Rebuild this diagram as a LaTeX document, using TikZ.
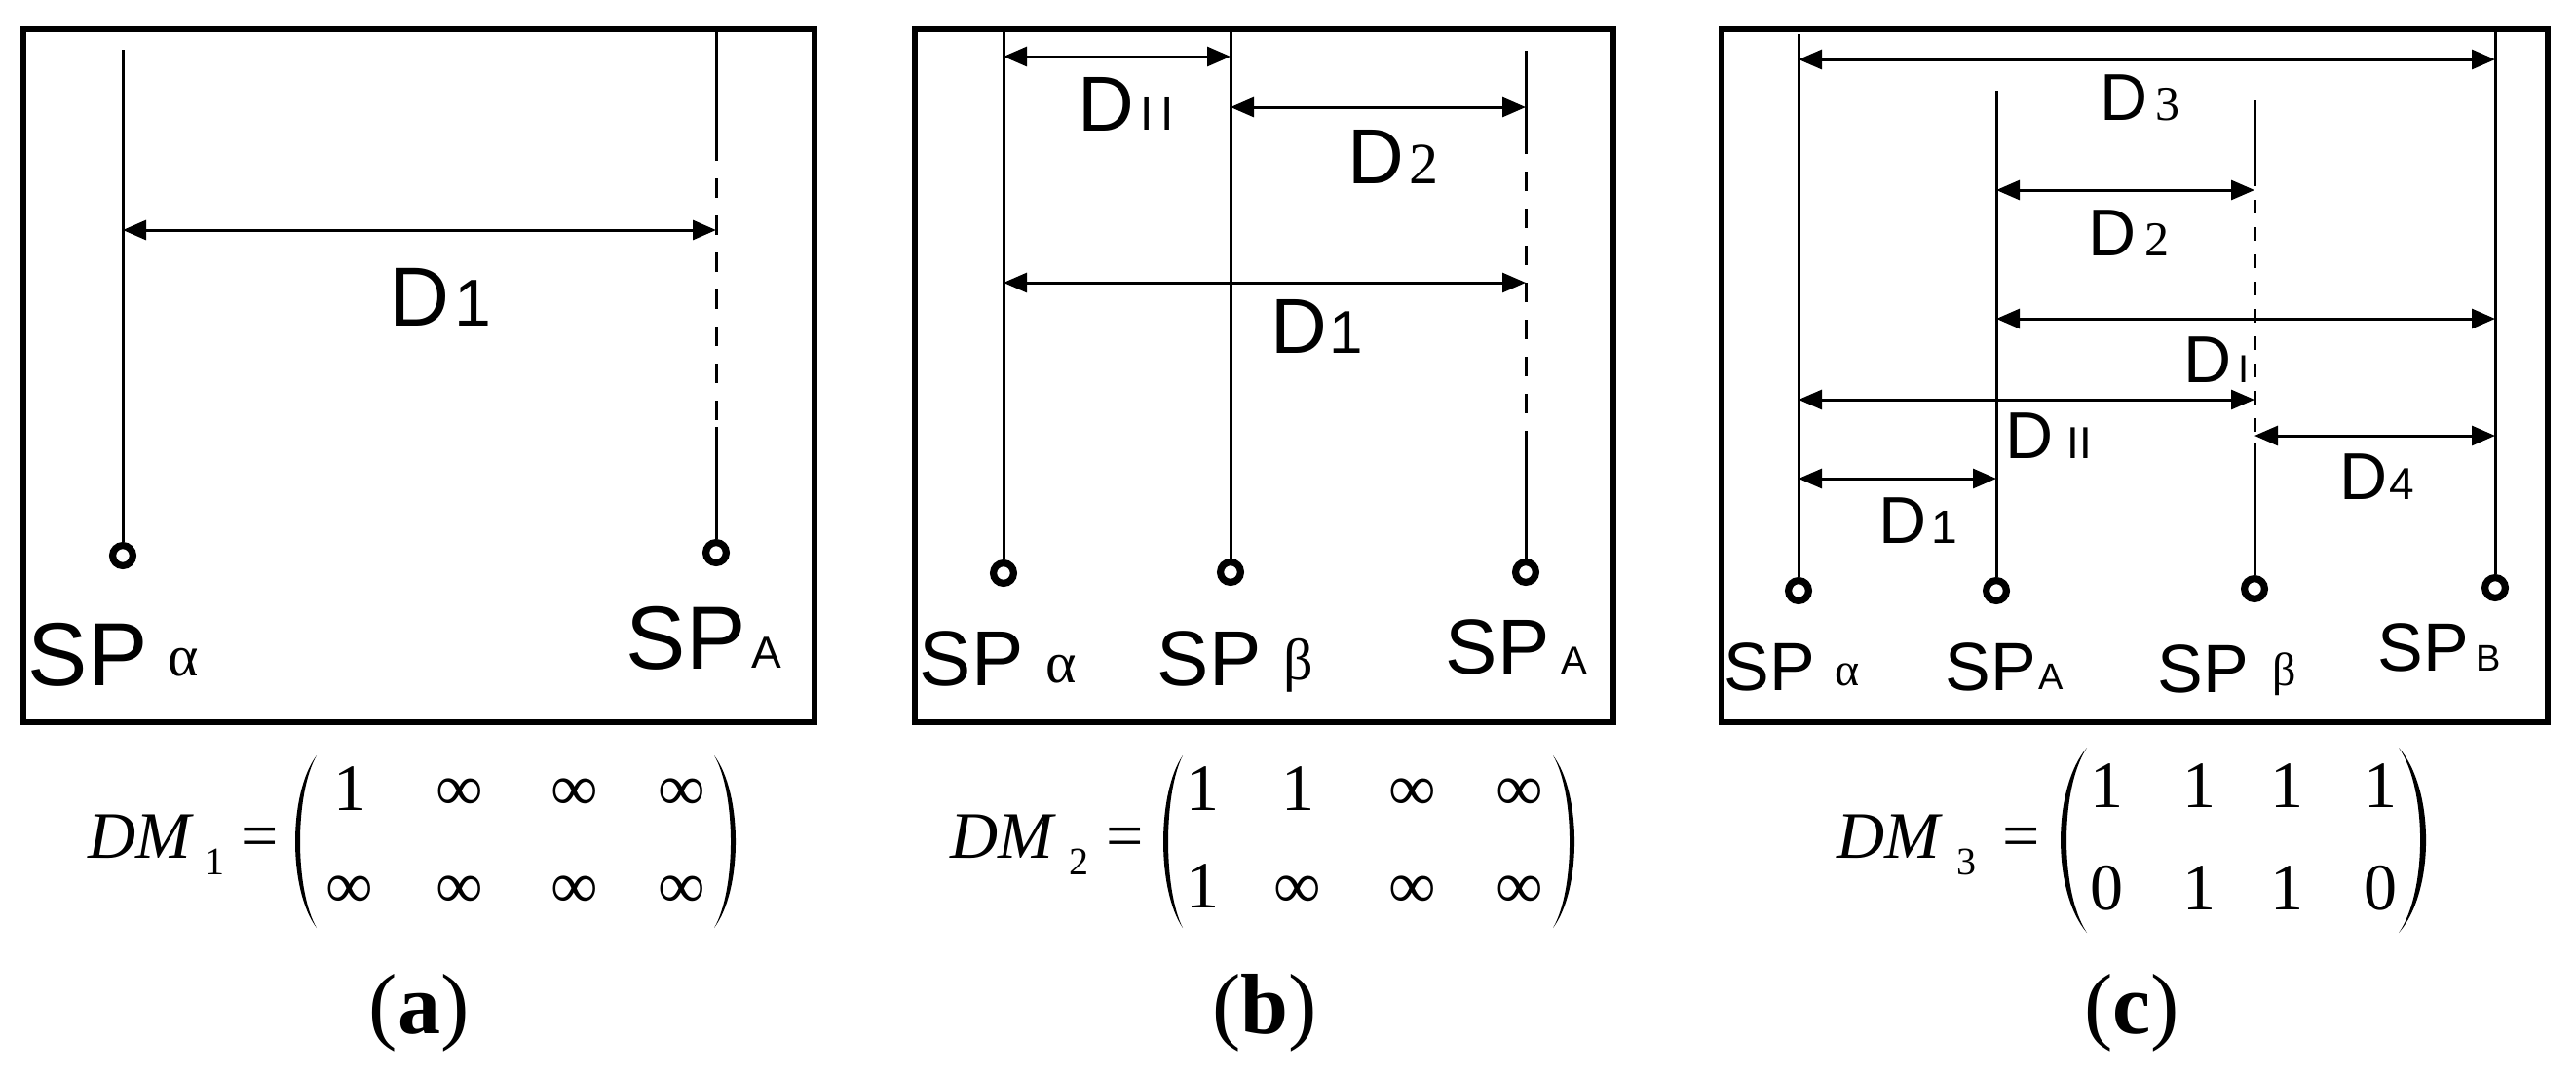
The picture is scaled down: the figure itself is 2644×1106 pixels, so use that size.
\documentclass[tikz,border=0pt]{standalone}
\usepackage{fontspec}
\setmainfont{Liberation Sans}
\newfontfamily\tnr{Liberation Serif}
\usetikzlibrary{arrows.meta}
\newcommand\fs[1]{\fontsize{#1}{#1}\selectfont}
% #1 tip x, #2 outer bulge x, #3 inner bulge x, #4 top y, #5 bottom y
\newcommand\myparen[5]{\fill (#1,#4) .. controls ({(#2-0.25*#1)/0.75},{#4+0.22*(#5-#4)}) and ({(#2-0.25*#1)/0.75},{#5-0.22*(#5-#4)}) .. (#1,#5) .. controls ({(#3-0.25*#1)/0.75},{#5-0.22*(#5-#4)}) and ({(#3-0.25*#1)/0.75},{#4+0.22*(#5-#4)}) .. (#1,#4) -- cycle;}
\begin{document}
\begin{tikzpicture}[x=0.25pt,y=-0.25pt,
  vl/.style={line width=0.75pt},
  dl/.style={line width=0.75pt, dash pattern=on 5pt off 4.5pt, dash phase=5pt},
  dlc/.style={line width=0.75pt, dash pattern=on 3.5pt off 3.5pt, dash phase=3.5pt},
  dm/.style={line width=0.75pt, {Triangle[length=6pt,width=5pt]}-{Triangle[length=6pt,width=5pt]}},
  spc/.style={circle, draw, line width=1.8pt, minimum size=5.2pt, inner sep=0pt},
  lb/.style={inner sep=0pt, anchor=base west},
  ctr/.style={inner sep=0pt, anchor=base},
  frame/.style={line width=1.3pt}]
\useasboundingbox (0,0) rectangle (2644,1106);
\fill[white] (0,0) rectangle (2644,1106);

%================ panel (a) ================
\draw[frame] (24,30) rectangle (836,741);
\coordinate (a-at) at (126,51);
\node[spc] (a-a) at (126,570) {};
\draw[vl] (a-at) -- (a-a);
\coordinate (a-At) at (735,30);
\coordinate (a-A1) at (735,165);
\coordinate (a-A2) at (735,438);
\node[spc] (a-A) at (735,567) {};
\draw[vl] (a-At) -- (a-A1);
\draw[dl] (a-A1) -- (a-A2);
\draw[vl] (a-A2) -- (a-A);
\coordinate (a-p1) at (126,236);
\coordinate (a-p2) at (735,236);
\draw[dm] (a-p1) -- (a-p2);
\node[lb] (a-D1) at (399,334) {\fs{21.5}D};
\node[lb] (a-D1s) at (466,334) {\fs{17}1};
\node[lb] (a-SPa) at (28,703) {\fs{23}SP};
\node[lb] (a-SPas) at (172,693) {\tnr\fs{15}α};
\node[lb] (a-SPA) at (642,686) {\fs{23}SP};
\node[lb] (a-SPAs) at (771,685) {\fs{11.5}A};
% matrix (a)
\node[lb] (a-DM) at (90,880) {\tnr\itshape\fs{17}DM};
\node[lb] (a-DMs) at (210,897) {\tnr\fs{10}1};
\node[ctr] (a-eq) at (267,880) {\tnr\fs{17}=};
\myparen{325}{303}{308}{775}{952}
\myparen{733}{755}{750}{775}{952}
\node[ctr] (a-m11) at (359,831) {\tnr\fs{17}1};
\node[ctr] (a-m12) at (472,831) {\tnr\fs{17}∞};
\node[ctr] (a-m13) at (590,831) {\tnr\fs{17}∞};
\node[ctr] (a-m14) at (700,831) {\tnr\fs{17}∞};
\node[ctr] (a-m21) at (359,931) {\tnr\fs{17}∞};
\node[ctr] (a-m22) at (472,931) {\tnr\fs{17}∞};
\node[ctr] (a-m23) at (590,931) {\tnr\fs{17}∞};
\node[ctr] (a-m24) at (700,931) {\tnr\fs{17}∞};
\node[ctr] (a-cap) at (430,1060) {\tnr\fs{22}(\textbf{a})};

%================ panel (b) ================
\draw[frame] (939,30) rectangle (1656,741);
\coordinate (b-at) at (1030,30);
\node[spc] (b-a) at (1030,588) {};
\draw[vl] (b-at) -- (b-a);
\coordinate (b-bt) at (1263,30);
\node[spc] (b-b) at (1263,587) {};
\draw[vl] (b-bt) -- (b-b);
\coordinate (b-At) at (1566,52);
\coordinate (b-A1) at (1566,158);
\coordinate (b-A2) at (1566,443);
\node[spc] (b-A) at (1566,587) {};
\draw[vl] (b-At) -- (b-A1);
\draw[dl] (b-A1) -- (b-A2);
\draw[vl] (b-A2) -- (b-A);
\coordinate (b-q1) at (1030,58);
\coordinate (b-q2) at (1263,58);
\draw[dm] (b-q1) -- (b-q2);
\coordinate (b-r1) at (1263,110);
\coordinate (b-r2) at (1566,110);
\draw[dm] (b-r1) -- (b-r2);
\coordinate (b-s1) at (1030,290);
\coordinate (b-s2) at (1566,290);
\draw[dm] (b-s1) -- (b-s2);
\node[lb] (b-DII) at (1106,134) {\fs{20}D};
\node[lb] (b-DIIs) at (1170,133) {\fs{12}I\kern1.75pt I};
\node[lb] (b-D2) at (1383,188) {\fs{20}D};
\node[lb] (b-D2s) at (1446,188) {\tnr\fs{15}2};
\node[lb] (b-D1) at (1304,362) {\fs{20}D};
\node[lb] (b-D1s) at (1364,362) {\fs{15.5}1};
\node[lb] (b-SPa) at (943,703) {\fs{20}SP};
\node[lb] (b-SPas) at (1073,700) {\tnr\fs{15}α};
\node[lb] (b-SPb) at (1187,703) {\fs{20}SP};
\node[lb] (b-SPbs) at (1317,697) {\tnr\fs{15}β};
\node[lb] (b-SPA) at (1483,691) {\fs{20}SP};
\node[lb] (b-SPAs) at (1602,691) {\fs{10}A};
% matrix (b)
\node[lb] (b-DM) at (975,880) {\tnr\itshape\fs{17}DM};
\node[lb] (b-DMs) at (1097,897) {\tnr\fs{10}2};
\node[ctr] (b-eq) at (1155,880) {\tnr\fs{17}=};
\myparen{1214}{1194}{1199}{775}{952}
\myparen{1594}{1616}{1611}{775}{952}
\node[ctr] (b-m11) at (1234,831) {\tnr\fs{17}1};
\node[ctr] (b-m12) at (1332,831) {\tnr\fs{17}1};
\node[ctr] (b-m13) at (1450,831) {\tnr\fs{17}∞};
\node[ctr] (b-m14) at (1560,831) {\tnr\fs{17}∞};
\node[ctr] (b-m21) at (1234,931) {\tnr\fs{17}1};
\node[ctr] (b-m22) at (1332,931) {\tnr\fs{17}∞};
\node[ctr] (b-m23) at (1450,931) {\tnr\fs{17}∞};
\node[ctr] (b-m24) at (1560,931) {\tnr\fs{17}∞};
\node[ctr] (b-cap) at (1298,1060) {\tnr\fs{22}(\textbf{b})};

%================ panel (c) ================
\draw[frame] (1767,30) rectangle (2615,741);
\coordinate (c-at) at (1846,35);
\node[spc] (c-a) at (1846,606) {};
\draw[vl] (c-at) -- (c-a);
\coordinate (c-At) at (2049,93);
\node[spc] (c-A) at (2049,606) {};
\draw[vl] (c-At) -- (c-A);
\coordinate (c-bt) at (2314,103);
\coordinate (c-b1) at (2314,191);
\coordinate (c-b2) at (2314,455);
\node[spc] (c-b) at (2314,604) {};
\draw[vl] (c-bt) -- (c-b1);
\draw[dlc] (c-b1) -- (c-b2);
\draw[vl] (c-b2) -- (c-b);
\coordinate (c-Bt) at (2561,30);
\node[spc] (c-B) at (2561,603) {};
\draw[vl] (c-Bt) -- (c-B);
\coordinate (c-d3l) at (1846,61);
\coordinate (c-d3r) at (2561,61);
\draw[dm] (c-d3l) -- (c-d3r);
\coordinate (c-d2l) at (2049,195);
\coordinate (c-d2r) at (2314,195);
\draw[dm] (c-d2l) -- (c-d2r);
\coordinate (c-dIl) at (2049,327);
\coordinate (c-dIr) at (2561,327);
\draw[dm] (c-dIl) -- (c-dIr);
\coordinate (c-dIIl) at (1846,410);
\coordinate (c-dIIr) at (2314,410);
\draw[dm] (c-dIIl) -- (c-dIIr);
\coordinate (c-d4l) at (2314,447);
\coordinate (c-d4r) at (2561,447);
\draw[dm] (c-d4l) -- (c-d4r);
\coordinate (c-d1l) at (1846,491);
\coordinate (c-d1r) at (2049,491);
\draw[dm] (c-d1l) -- (c-d1r);
\node[lb] (c-D3) at (2155,123) {\fs{17}D};
\node[lb] (c-D3s) at (2212,123) {\tnr\fs{12.5}3};
\node[lb] (c-D2) at (2143,262) {\fs{17}D};
\node[lb] (c-D2s) at (2201,262) {\tnr\fs{12.5}2};
\node[lb] (c-DI) at (2241,392) {\fs{17}D};
\node[lb] (c-DIs) at (2297,392) {\fs{10}I};
\node[lb] (c-DII) at (2058,470) {\fs{17}D};
\node[lb] (c-DIIs) at (2121,470) {\fs{11.5}II};
\node[lb] (c-D4) at (2401,512) {\fs{17}D};
\node[lb] (c-D4s) at (2452,512) {\fs{11.5}4};
\node[lb] (c-D1) at (1928,557) {\fs{17}D};
\node[lb] (c-D1s) at (1982,557) {\fs{12}1};
\node[lb] (c-SPa) at (1769,708) {\fs{17.5}SP};
\node[lb] (c-SPas) at (1883,703) {\tnr\fs{12}α};
\node[lb] (c-SPA) at (1996,708) {\fs{17.5}SP};
\node[lb] (c-SPAs) at (2092,707) {\fs{9.5}A};
\node[lb] (c-SPb) at (2214,710) {\fs{17.5}SP};
\node[lb] (c-SPbs) at (2332,703) {\tnr\fs{12}β};
\node[lb] (c-SPB) at (2440,688) {\fs{17.5}SP};
\node[lb] (c-SPBs) at (2541,688) {\fs{9.5}B};
% matrix (c)
\node[lb] (c-DM) at (1885,880) {\tnr\itshape\fs{17}DM};
\node[lb] (c-DMs) at (2008,897) {\tnr\fs{10}3};
\node[ctr] (c-eq) at (2075,880) {\tnr\fs{17}=};
\myparen{2142}{2115}{2121}{767}{957}
\myparen{2462}{2490}{2484}{767}{957}
\node[ctr] (c-m11) at (2162,828) {\tnr\fs{17}1};
\node[ctr] (c-m12) at (2257,828) {\tnr\fs{17}1};
\node[ctr] (c-m13) at (2347,828) {\tnr\fs{17}1};
\node[ctr] (c-m14) at (2443,828) {\tnr\fs{17}1};
\node[ctr] (c-m21) at (2162,933) {\tnr\fs{17}0};
\node[ctr] (c-m22) at (2257,933) {\tnr\fs{17}1};
\node[ctr] (c-m23) at (2347,933) {\tnr\fs{17}1};
\node[ctr] (c-m24) at (2443,933) {\tnr\fs{17}0};
\node[ctr] (c-cap) at (2188,1060) {\tnr\fs{22}(\textbf{c})};
\end{tikzpicture}
\end{document}
